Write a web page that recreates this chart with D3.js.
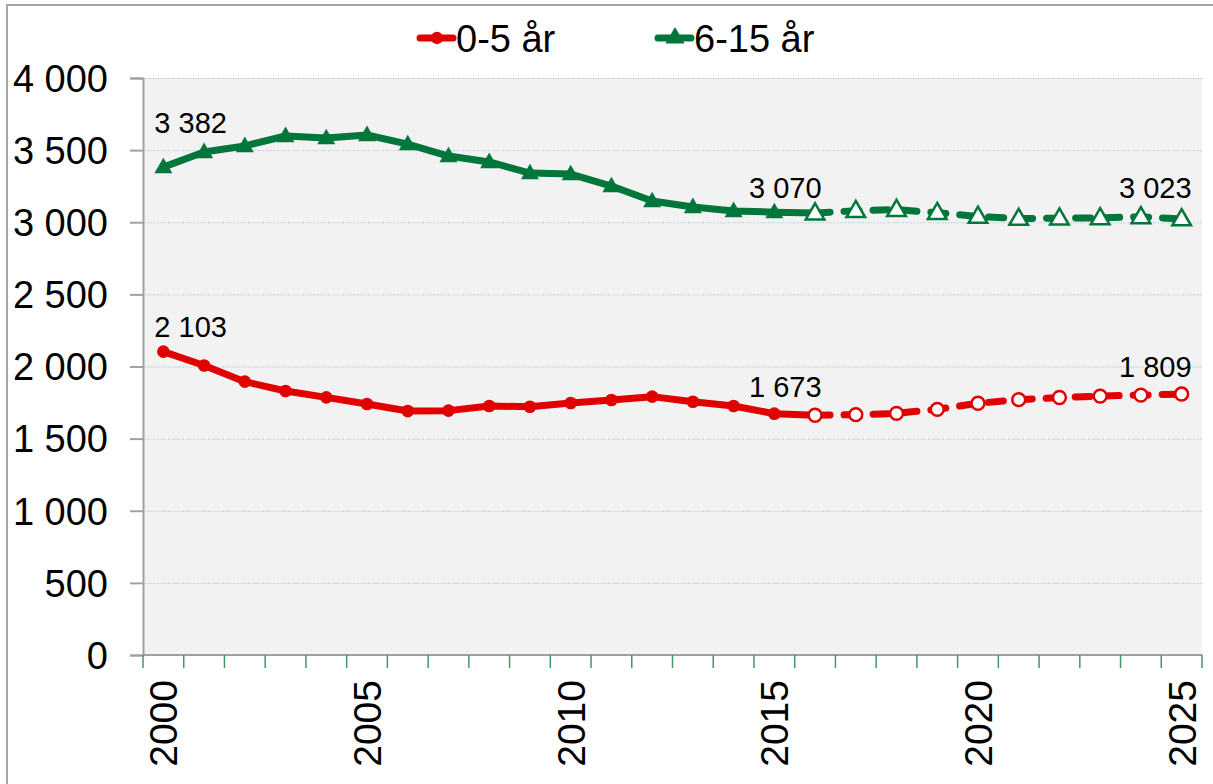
<!DOCTYPE html>
<html>
<head>
<meta charset="utf-8">
<script src="https://cdn.jsdelivr.net/npm/d3@7"></script>
<style>
  body { margin: 0; background: #fff; }
  svg { display: block; font-family: "Liberation Sans", Arial, sans-serif; }
</style>
</head>
<body>
<svg width="1213" height="784"></svg>
<script>
// data
var years = [2000, 2001, 2002, 2003, 2004, 2005, 2006, 2007, 2008, 2009, 2010, 2011, 2012,
  2013, 2014, 2015, 2016, 2017, 2018, 2019, 2020, 2021, 2022, 2023, 2024, 2025];
var young = [2103, 2007, 1895, 1830, 1786, 1740, 1691, 1694, 1726, 1721, 1747, 1768, 1791,
  1756, 1726, 1673, 1662, 1666, 1675, 1703, 1745, 1770, 1785, 1795, 1802, 1809];
var school = [3382, 3487, 3529, 3598, 3584, 3605, 3542, 3459, 3418, 3341, 3334, 3251, 3147,
  3106, 3078, 3070, 3064, 3080, 3088, 3066, 3040, 3026, 3028, 3030, 3038, 3023];
var seriesNames = ["0-5 år", "6-15 år"];
var yTicks = [0, 500, 1000, 1500, 2000, 2500, 3000, 3500, 4000];
var xLabels = [2000, 2005, 2010, 2015, 2020, 2025];
var labelYears = [2000, 2015, 2025];
var forecastFrom = 2016;

var red = "#e00000", green = "#00763a";

var svg = d3.select("svg");
var plotL = 143, plotR = 1202, plotT = 78, plotB = 655;

var fmt = d3.formatLocale({ decimal: ",", thousands: " ", grouping: [3] }).format(",d");

var x = d3.scaleBand().domain(years).range([plotL, plotR]);
var y = d3.scaleLinear().domain([0, 4000]).range([plotB, plotT]);
function cx(yr) { return x(yr) + x.bandwidth() / 2; }

// outer frame
svg.append("path")
  .attr("d", "M7,784 L7,5 L1213,5")
  .attr("fill", "none")
  .attr("stroke", "#a6a6a6")
  .attr("stroke-width", 2);

// plot background
svg.append("rect")
  .attr("x", plotL).attr("y", plotT)
  .attr("width", plotR - plotL).attr("height", plotB - plotT)
  .attr("fill", "#f2f2f2");

// grid
svg.append("g").selectAll("line")
  .data(yTicks.filter(function (d) { return d > 0; }))
  .enter().append("line")
  .attr("x1", plotL).attr("x2", plotR)
  .attr("y1", function (d) { return y(d) + 0.5; })
  .attr("y2", function (d) { return y(d) + 0.5; })
  .attr("stroke", "#9fbbe8")
  .attr("stroke-width", 1)
  .attr("stroke-dasharray", "1,1.5");

// y axis
var yAxis = svg.append("g")
  .attr("transform", "translate(" + plotL + ",0)")
  .call(d3.axisLeft(y).tickValues(yTicks).tickFormat(fmt).tickSize(13).tickPadding(22));
yAxis.select(".domain").attr("stroke", "#a0a0a0").attr("stroke-width", 2);
yAxis.selectAll(".tick line").attr("stroke", "#a0a0a0").attr("stroke-width", 2);
yAxis.selectAll(".tick text")
  .attr("font-size", "38px")
  .attr("font-family", "Liberation Sans, Arial, sans-serif")
  .attr("fill", "#000")
  .attr("dy", "0.35em");

// x axis
var xg = svg.append("g");
xg.append("line")
  .attr("x1", plotL).attr("x2", plotR)
  .attr("y1", plotB).attr("y2", plotB)
  .attr("stroke", "#a0a0a0").attr("stroke-width", 2);
xg.selectAll(".xt")
  .data(years.concat(["end"]))
  .enter().append("line")
  .attr("class", "xt")
  .attr("x1", function (d) { return d === "end" ? plotR : x(d); })
  .attr("x2", function (d) { return d === "end" ? plotR : x(d); })
  .attr("y1", plotB).attr("y2", plotB + 13)
  .attr("stroke", "#3f9a63").attr("stroke-width", 1.5);
xg.selectAll(".xl")
  .data(xLabels)
  .enter().append("text")
  .attr("class", "xl")
  .attr("transform", function (d) { return "translate(" + (cx(d) + 14) + "," + (plotB + 25) + ") rotate(-90)"; })
  .attr("text-anchor", "end")
  .attr("font-size", "39px")
  .text(function (d) { return d; });

// lines
function drawSeries(values, color, marker) {
  var pts = years.map(function (yr, i) { return { year: yr, v: values[i] }; });
  var line = d3.line().x(function (d) { return cx(d.year); }).y(function (d) { return y(d.v); });
  var g = svg.append("g");
  g.append("path")
    .datum(pts.filter(function (d) { return d.year <= forecastFrom; }))
    .attr("d", line)
    .attr("fill", "none").attr("stroke", color).attr("stroke-width", 7)
    .attr("stroke-linejoin", "round");
  g.append("path")
    .datum(pts.filter(function (d) { return d.year >= forecastFrom; }))
    .attr("d", line)
    .attr("fill", "none").attr("stroke", color).attr("stroke-width", 7)
    .attr("stroke-linecap", "round")
    .attr("stroke-dasharray", "15,14");
  var symType = marker === "circle" ? d3.symbolCircle : d3.symbolTriangle;
  g.selectAll(".m")
    .data(pts)
    .enter().append("path")
    .attr("class", "m")
    .attr("d", function (d) {
      var hollow = d.year >= forecastFrom;
      var size = marker === "circle" ? (hollow ? 130 : 125) : (hollow ? 150 : 140);
      return d3.symbol().type(symType).size(size)();
    })
    .attr("transform", function (d) {
      return "translate(" + cx(d.year) + "," + (y(d.v) + (marker === "circle" ? 0 : 1)) + ")";
    })
    .attr("fill", function (d) { return d.year >= forecastFrom ? "#fff" : color; })
    .attr("stroke", color)
    .attr("stroke-width", function (d) { return d.year >= forecastFrom ? 2.5 : 0; });
  return pts;
}

var youngPts = drawSeries(young, red, "circle");
var schoolPts = drawSeries(school, green, "triangle");

// data labels
var labelPos = {
  2000: { anchor: "start", dx: -9 },
  2015: { anchor: "middle", dx: 11 },
  2025: { anchor: "end", dx: 10 }
};
var labelDy = { young: { 2000: -15, 2015: -17, 2025: -17 }, school: { 2000: -34, 2015: -14, 2025: -21 } };
[["young", youngPts], ["school", schoolPts]].forEach(function (s) {
  svg.append("g").selectAll("text")
    .data(s[1].filter(function (d) { return labelYears.indexOf(d.year) >= 0; }))
    .enter().append("text")
    .attr("x", function (d) { return cx(d.year) + labelPos[d.year].dx; })
    .attr("y", function (d) { return y(d.v) + labelDy[s[0]][d.year]; })
    .attr("text-anchor", function (d) { return labelPos[d.year].anchor; })
    .attr("font-size", "29px")
    .text(function (d) { return fmt(d.v); });
});

// legend
var legend = svg.append("g");
var legendItems = [
  { name: seriesNames[0], color: red, marker: "circle", x: 417 },
  { name: seriesNames[1], color: green, marker: "triangle", x: 655 }
];
legendItems.forEach(function (it) {
  legend.append("line")
    .attr("x1", it.x + 3).attr("x2", it.x + 36)
    .attr("y1", 38).attr("y2", 38)
    .attr("stroke", it.color).attr("stroke-width", 7).attr("stroke-linecap", "round");
  legend.append("path")
    .attr("d", d3.symbol().type(it.marker === "circle" ? d3.symbolCircle : d3.symbolTriangle)
      .size(it.marker === "circle" ? 120 : 160))
    .attr("transform", "translate(" + (it.x + 20) + ",38)")
    .attr("fill", it.color);
  legend.append("text")
    .attr("x", it.x + 39).attr("y", 52)
    .attr("font-size", "38px")
    .text(it.name);
});
</script>
</body>
</html>
